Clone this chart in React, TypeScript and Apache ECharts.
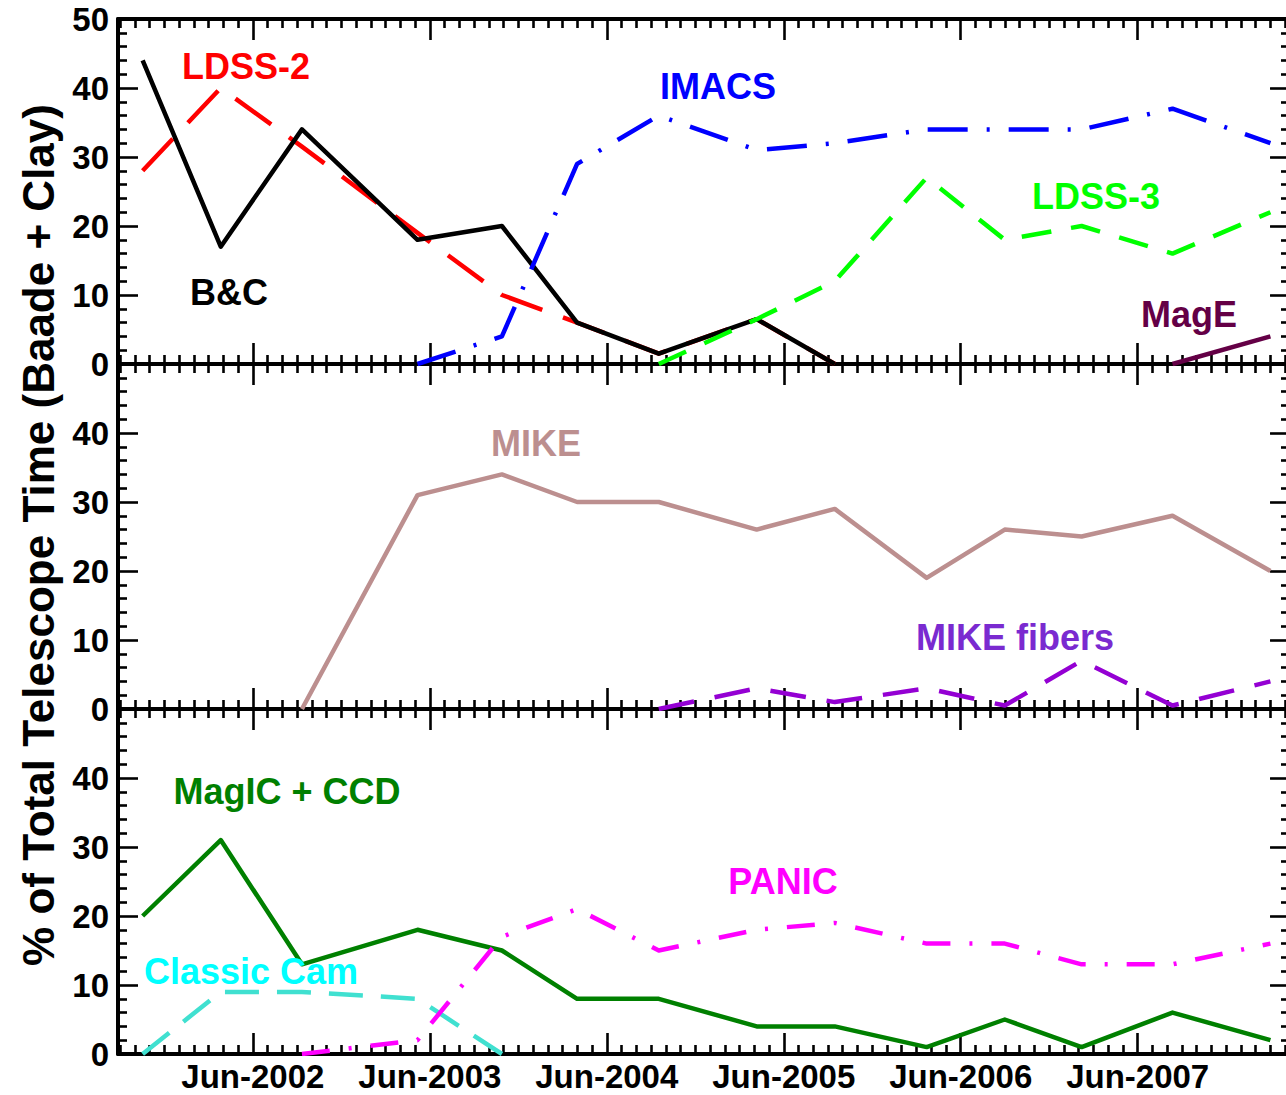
import React, { useEffect, useRef } from 'react';
import * as echarts from 'echarts';

// Semester mid-dates at which each value was measured
const SEMESTER_DATES = [
  '2001-10-17', '2002-03-26', '2002-09-11', '2003-05-06', '2003-10-28',
  '2004-03-31', '2004-09-17', '2005-04-06', '2005-09-15', '2006-03-22',
  '2006-08-31', '2007-02-07', '2007-08-12', '2008-03-01',
];
const AXIS_START = '2001-08-27';
const AXIS_END = '2008-04-11';
const X_LABEL_PREFIX = 'Jun-';
const Y_TICKS_MAX = 50;

// Panel 1
const BC = [44, 17, 34, 18, 20, 6, 1.5, 6.5, 0, null, null, null, null, null];
const LDSS2 = [28, 40, 31.5, 19, 10, 6, 1.5, 6.5, 0, null, null, null, null, null];
const IMACS = [null, null, null, 0, 4, 29, 36, 31, 32, 34, 34, 34, 37, 32];
const LDSS3 = [null, null, null, null, null, null, 0, 6.5, 12, 27, 18, 20, 16, 22];
const MAGE = [null, null, null, null, null, null, null, null, null, null, null, null, 0, 4];
// Panel 2
const MIKE = [null, null, 0, 31, 34, 30, 30, 26, 29, 19, 26, 25, 28, 20];
const MIKE_FIBERS = [null, null, null, null, null, null, 0, 3, 1, 3, 0.5, 7, 0.5, 4];
// Panel 3
const MAGIC_CCD = [20, 31, 13, 18, 15, 8, 8, 4, 4, 1, 5, 1, 6, 2];
const CLASSIC_CAM = [0, 9, 9, 8, 0, null, null, null, null, null, null, null, null, null];
const PANIC = [null, null, 0, 2, 17, 21, 15, 18, 19, 16, 16, 13, 13, 16];

const FONT = '"Liberation Sans", Arial, Helvetica, sans-serif';

// years counted from June (June of year Y -> Y)
function toAxis(d: string): number {
  const [y, m, day] = d.split('-').map(Number);
  return y + (m - 6) / 12 + (day - 1) / 365;
}

function pairs(vals: (number | null)[]) {
  const out: [number, number][] = [];
  vals.forEach((v, i) => {
    if (v !== null) out.push([toAxis(SEMESTER_DATES[i]), v]);
  });
  return out;
}

export default function App() {
  const ref = useRef<HTMLDivElement>(null);
  useEffect(() => {
    if (!ref.current) return;
    const chart = echarts.init(ref.current, undefined, { renderer: 'svg' });
    const X_MIN = toAxis(AXIS_START);
    const X_MAX = toAxis(AXIS_END);
    const tops = [19, 364, 709];
    const H = 345;
    const grid = tops.map((t) => ({
      left: 118, top: t, width: 1172, height: H, containLabel: false, outerBoundsMode: 'none',
    }));

    const tickLine = { color: '#000', width: 2.6 };
    const xAxes: any[] = [];
    const yAxes: any[] = [];
    tops.forEach((_, g) => {
      ['bottom', 'top'].forEach((pos) => {
        const showLabels = g === 2 && pos === 'bottom';
        xAxes.push({
          type: 'value', gridIndex: g, position: pos, min: X_MIN, max: X_MAX,
          minInterval: 1, maxInterval: 1, splitNumber: 6,
          axisLine: { show: true, onZero: false, lineStyle: { color: '#000', width: 4 } },
          axisTick: { show: true, inside: true, length: 21, lineStyle: tickLine },
          minorTick: { show: true, splitNumber: 12, length: 9, lineStyle: tickLine },
          splitLine: { show: false },
          minorSplitLine: { show: false },
          axisLabel: {
            show: showLabels, margin: 9, color: '#000', fontSize: 33, lineHeight: 26,
            fontWeight: 'bold', fontFamily: FONT,
            formatter: (v: number) => (Math.abs(v - Math.round(v)) < 1e-6 ? X_LABEL_PREFIX + Math.round(v) : ''),
          },
        });
      });
      ['left', 'right'].forEach((pos) => {
        yAxes.push({
          type: 'value', gridIndex: g, position: pos, min: 0, max: Y_TICKS_MAX, interval: 10,
          axisLine: { show: true, onZero: false, lineStyle: { color: '#000', width: 4 } },
          axisTick: { show: true, inside: true, length: 20, lineStyle: tickLine },
          minorTick: { show: true, splitNumber: 5, length: 9, lineStyle: tickLine },
          splitLine: { show: false },
          axisLabel: {
            show: pos === 'left', margin: 9, color: '#000', fontSize: 33, fontWeight: 'bold', fontFamily: FONT,
            formatter: (v: number) => (g > 0 && v === Y_TICKS_MAX ? '' : String(v)),
          },
        });
      });
    });

    const mk = (name: string, vals: (number | null)[], g: number, color: string, type: any) => ({
      name, type: 'line', xAxisIndex: 2 * g, yAxisIndex: 2 * g, data: pairs(vals),
      showSymbol: false, symbol: 'none', silent: true,
      lineStyle: { color, width: 4.5, type, cap: 'butt', join: 'round' },
    });

    const series = [
      mk('LDSS-2', LDSS2, 0, '#ff0000', [44, 22]),
      mk('B&C', BC, 0, '#000000', 'solid'),
      mk('IMACS', IMACS, 0, '#0000ff', [40, 19, 3, 19]),
      mk('LDSS-3', LDSS3, 0, '#00ff00', [30, 20]),
      mk('MagE', MAGE, 0, '#640046', 'solid'),
      mk('MIKE', MIKE, 1, '#bc8f8f', 'solid'),
      mk('MIKE fibers', MIKE_FIBERS, 1, '#9400d3', [36, 21]),
      mk('MagIC + CCD', MAGIC_CCD, 2, '#008000', 'solid'),
      mk('Classic Cam', CLASSIC_CAM, 2, '#40e0d0', [34, 18]),
      mk('PANIC', PANIC, 2, '#ff00ff', [28, 19, 3, 19]),
    ];

    const lbl = (text: string, x: number, y: number, fill: string) => ({
      type: 'text', x, y, z: 100,
      style: { text, fill, font: `bold 36px ${FONT}`, textAlign: 'center', textVerticalAlign: 'middle' },
    });

    chart.setOption({
      animation: false,
      backgroundColor: '#fff',
      grid,
      xAxis: xAxes,
      yAxis: yAxes,
      series,
      graphic: [
        lbl('LDSS-2', 246, 66, '#ff0000'),
        lbl('B&C', 229, 292, '#000000'),
        lbl('IMACS', 718, 86, '#0000ff'),
        lbl('LDSS-3', 1096, 196, '#00ff00'),
        lbl('MagE', 1189, 314, '#640046'),
        lbl('MIKE', 536, 443, '#bc8f8f'),
        lbl('MIKE fibers', 1015, 637, '#7a2ad0'),
        lbl('MagIC + CCD', 287, 791, '#008000'),
        lbl('PANIC', 783, 881, '#ff00ff'),
        lbl('Classic Cam', 251, 971, '#00ffff'),
        {
          type: 'text', x: 38, y: 535, rotation: Math.PI / 2, z: 100,
          style: {
            text: '% of Total Telescope Time (Baade + Clay)', fill: '#000',
            font: `bold 44px ${FONT}`, textAlign: 'center', textVerticalAlign: 'middle',
          },
        },
      ],
    });
    return () => chart.dispose();
  }, []);
  return (
    <div
      ref={ref}
      style={{ position: 'absolute', left: 0, top: 0, width: 1286, height: 1095, background: '#fff' }}
    />
  );
}
